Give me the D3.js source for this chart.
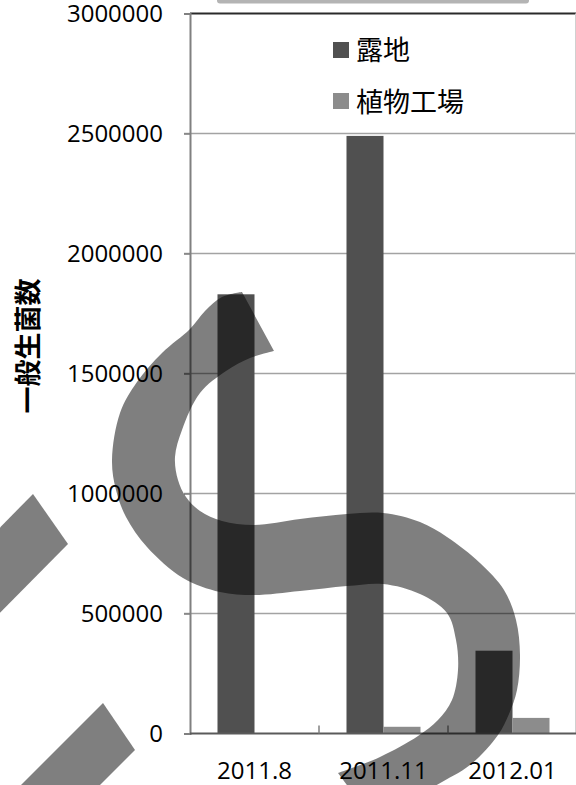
<!DOCTYPE html>
<html>
<head>
<meta charset="utf-8">
<script src="https://cdn.jsdelivr.net/npm/d3@7"></script>
<style>
  html, body { margin: 0; padding: 0; background: #fff; }
  svg { display: block; }
</style>
</head>
<body>
<svg id="chart" width="576" height="785"></svg>
<script>
// Sample dates and bacterial counts per growing method
const categories = ["2011.8", "2011.11", "2012.01"];
const seriesNames = ["露地", "植物工場"];
const openFieldValues = [1830000, 2490000, 345000];
const plantFactoryValues = [0, 28000, 65000];
const yTickValues = [0, 500000, 1000000, 1500000, 2000000, 2500000, 3000000];
const seriesColors = ["#505050", "#8c8c8c"];
const yTitle = "一般生菌数";

const W = 576, H = 785;
const plot = { left: 190, right: 577, top: 13.5, bottom: 733.5 };
const numFont = "'Open Sans', 'DejaVu Sans', sans-serif";
const cjkFont = "'Noto Sans CJK JP', 'Noto Sans CJK SC', sans-serif";

const svg = d3.select("#chart");
svg.append("rect").attr("width", W).attr("height", H).attr("fill", "#fff");

const x0 = d3.scaleBand().domain(categories).range([plot.left, plot.right]);
const x1 = d3.scaleBand().domain(seriesNames).range([0, x0.bandwidth()])
  .paddingInner(0).paddingOuter(0.743);
const y = d3.scaleLinear().domain([0, 3000000]).range([plot.bottom, plot.top]);

// rounded header strip above the plot
svg.append("rect")
  .attr("x", 217).attr("y", -10).attr("width", 312).attr("height", 13.5)
  .attr("rx", 3).attr("fill", "#b4b4b4");

// horizontal gridlines
svg.append("g")
  .selectAll("line")
  .data(yTickValues.filter(d => d > 0 && d < 3000000))
  .join("line")
  .attr("x1", plot.left - 6).attr("x2", plot.right)
  .attr("y1", d => y(d)).attr("y2", d => y(d))
  .attr("stroke", "#a3a3a3").attr("stroke-width", 1.5);

// plot frame: top and right edges
svg.append("line")
  .attr("x1", plot.left).attr("x2", plot.right)
  .attr("y1", plot.top).attr("y2", plot.top)
  .attr("stroke", "#2a2a2a").attr("stroke-width", 2);
svg.append("line")
  .attr("x1", 575.5).attr("x2", 575.5)
  .attr("y1", plot.top).attr("y2", plot.bottom)
  .attr("stroke", "#d0d0d0").attr("stroke-width", 1);

// y axis
const yAxis = d3.axisLeft(y).tickValues(yTickValues).tickSize(6).tickPadding(21)
  .tickFormat(d3.format("d"));
const gy = svg.append("g").attr("transform", `translate(${plot.left},0)`).call(yAxis);
gy.select(".domain").attr("stroke", "#808080").attr("stroke-width", 2);
gy.selectAll(".tick line").attr("stroke", "#808080").attr("stroke-width", 1.5);
gy.selectAll(".tick text")
  .attr("font-family", numFont).attr("font-size", 24).attr("fill", "#000");

// bars
const rows = categories.map((c, i) => ({
  category: c,
  values: [openFieldValues[i], plantFactoryValues[i]]
}));
const groups = svg.append("g").selectAll("g")
  .data(rows).join("g")
  .attr("transform", d => `translate(${x0(d.category)},0)`);
groups.selectAll("rect")
  .data(d => d.values.map((v, j) => ({ series: seriesNames[j], value: v, j })))
  .join("rect")
  .attr("x", d => x1(d.series))
  .attr("width", x1.bandwidth())
  .attr("y", d => y(d.value))
  .attr("height", d => y(0) - y(d.value))
  .attr("fill", d => seriesColors[d.j]);

// x axis line with category-boundary ticks pointing inward
svg.append("line")
  .attr("x1", plot.left).attr("x2", plot.right)
  .attr("y1", plot.bottom).attr("y2", plot.bottom)
  .attr("stroke", "#5a5a5a").attr("stroke-width", 2);
svg.append("g").selectAll("line")
  .data(categories.slice(1))
  .join("line")
  .attr("x1", d => x0(d)).attr("x2", d => x0(d))
  .attr("y1", plot.bottom).attr("y2", plot.bottom - 8)
  .attr("stroke", "#808080").attr("stroke-width", 1.5);
svg.append("g").selectAll("text")
  .data(categories)
  .join("text")
  .attr("x", d => x0(d) + x0.bandwidth() / 2)
  .attr("y", 779)
  .attr("text-anchor", "middle")
  .attr("font-family", numFont).attr("font-size", 24).attr("fill", "#000")
  .text(d => d);

// y axis title
svg.append("text")
  .attr("transform", "translate(38,346) rotate(-90)")
  .attr("text-anchor", "middle")
  .attr("font-family", cjkFont).attr("font-size", 27).attr("font-weight", "bold")
  .attr("fill", "#000")
  .text(yTitle);

// legend
const legend = svg.append("g").selectAll("g")
  .data(seriesNames).join("g")
  .attr("transform", (d, i) => `translate(333,${i === 0 ? 50 : 101})`);
legend.append("rect")
  .attr("x", 0).attr("y", -8).attr("width", 16).attr("height", 16)
  .attr("fill", (d, i) => seriesColors[i]);
legend.append("text")
  .attr("x", 23).attr("y", (d, i) => i === 0 ? -2 : -1)
  .attr("dominant-baseline", "central")
  .attr("font-family", cjkFont).attr("font-size", 27).attr("fill", "#000")
  .text(d => d);

// translucent "S" emblem drawn over the chart
const edgeOuter = [
  [242, 292], [222, 297], [205, 311], [190, 329], [162, 353], [137, 382],
  [120, 413], [112, 460], [116, 490], [126, 517], [147, 547], [183, 578],
  [220, 592], [254, 595], [300, 591], [347, 586], [383, 584], [420, 594],
  [447, 613], [456, 640], [458, 670], [452, 700], [438, 720], [418, 736],
  [380, 757], [338, 773]
];
const edgeInner = [
  [274, 351], [250, 358], [226, 371], [200, 393], [182, 430], [175, 457],
  [178, 480], [186, 497], [200, 511], [222, 521], [254, 525], [300, 519],
  [347, 514], [383, 513], [420, 522], [447, 537], [480, 563], [504, 590],
  [516, 620], [520, 655], [517, 690], [509, 714], [498, 735], [470, 765],
  [432, 788], [378, 827]
];
const curve = d3.line().curve(d3.curveCatmullRom.alpha(0.5));
const emblemPath = curve(edgeOuter) + curve(edgeInner.slice().reverse()).replace(/^M/, "L") + "Z";
const emblem = svg.append("g").attr("fill", "#000").attr("fill-opacity", 0.5);
emblem.append("path").attr("d", emblemPath);

// diagonal strokes at the lower left
const strokes = [
  [[33, 494], [68, 544], [-17, 630], [-52, 580]],
  [[103, 703], [135, 750], [29, 856], [-3, 809]]
];
emblem.selectAll("polygon.stroke")
  .data(strokes).join("polygon")
  .attr("class", "stroke")
  .attr("points", d => d.map(p => p.join(",")).join(" "));
</script>
</body>
</html>
